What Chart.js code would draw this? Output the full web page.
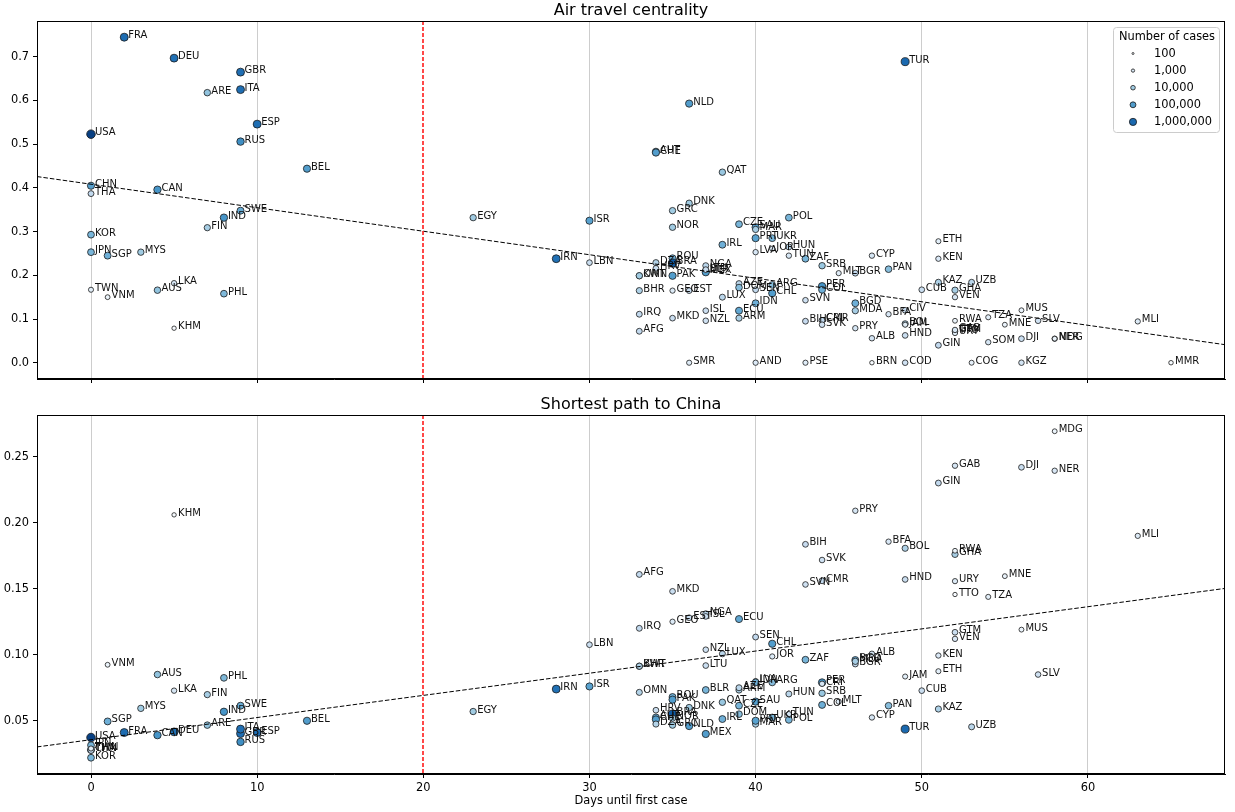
<!DOCTYPE html>
<html><head><meta charset="utf-8">
<script src="https://cdn.jsdelivr.net/npm/chart.js@4.4.0/dist/chart.umd.min.js"></script>
<style>
html,body{margin:0;padding:0;background:#fff;}
#wrap{position:relative;width:1235px;height:812px;}
canvas{position:absolute;left:0;}
</style></head><body>
<div id="wrap">
<canvas id="topChart" width="1235" height="392" style="top:0px"></canvas>
<canvas id="botChart" width="1235" height="420" style="top:392px"></canvas>
</div>
<script>
// ---------- DATA ----------
const codes = [
 'USA','CHN','THA','KOR','JPN','TWN','SGP','VNM','FRA','MYS',
 'CAN','AUS','DEU','LKA','KHM','ARE','FIN','IND','PHL','GBR',
 'ITA','RUS','SWE','ESP','BEL','EGY','IRN','ISR','LBN','OMN',
 'KWT','BHR','IRQ','AFG','AUT','CHE','DZA','HRV','ROU','BRA',
 'PAK','GEO','MKD','GRC','NOR','NLD','DNK','EST','SMR','NGA',
 'BLR','MEX','LTU','ISL','NZL','QAT','IRL','LUX','CZE','ARM',
 'AZE','DOM','ECU','SAU','MAR','PRT','LVA','SEN','IDN','AND',
 'UKR','JOR','ARG','CHL','HUN','TUN','POL','ZAF','SVN','BIH',
 'PSE','PER','COL','SRB','CRI','CMR','SVK','MLT','BGR','BGD',
 'MDA','PRY','CYP','ALB','BRN','PAN','BFA','TUR','CIV','BOL',
 'JAM','HND','COD','CUB','ETH','KEN','KAZ','GIN','GHA','VEN',
 'RWA','GTM','TTO','URY','GAB','UZB','COG','TZA','SOM','MNE',
 'MUS','DJI','KGZ','SLV','NER','MDG','MLI','MMR'];
const daysUntilFirstCase = [
 0,0,0,0,0,0,1,1,2,3,
 4,4,5,5,5,7,7,8,8,9,
 9,9,9,10,13,23,28,30,30,33,
 33,33,33,33,34,34,34,34,35,35,
 35,35,35,35,35,36,36,36,36,37,
 37,37,37,37,37,38,38,38,39,39,
 39,39,39,40,40,40,40,40,40,40,
 41,41,41,41,42,42,42,43,43,43,
 43,44,44,44,44,44,44,45,46,46,
 46,46,47,47,47,48,48,49,49,49,
 49,49,49,50,51,51,51,51,52,52,
 52,52,52,52,52,53,53,54,54,55,
 56,56,56,57,58,58,63,65];
const airCentrality = [
 0.523,0.405,0.387,0.293,0.253,0.167,0.245,0.150,0.745,0.253,
 0.396,0.166,0.697,0.182,0.079,0.618,0.309,0.332,0.158,0.665,
 0.625,0.506,0.348,0.546,0.444,0.332,0.238,0.325,0.229,0.199,
 0.199,0.165,0.111,0.072,0.483,0.481,0.229,0.216,0.239,0.228,
 0.199,0.165,0.102,0.348,0.310,0.593,0.365,0.165,0.000,0.222,
 0.210,0.207,0.213,0.119,0.096,0.436,0.270,0.150,0.317,0.102,
 0.181,0.172,0.119,0.310,0.305,0.285,0.253,0.167,0.136,0.000,
 0.285,0.261,0.178,0.159,0.265,0.245,0.332,0.238,0.143,0.095,
 0.000,0.175,0.167,0.222,0.097,0.097,0.087,0.205,0.205,0.136,
 0.119,0.079,0.245,0.056,0.000,0.214,0.111,0.689,0.120,0.089,
 0.087,0.0625,0.000,0.167,0.278,0.238,0.184,0.040,0.166,0.150,
 0.096,0.072,0.070,0.068,0.075,0.184,0.000,0.104,0.047,0.087,
 0.120,0.055,0.000,0.096,0.055,0.055,0.0945,0.000];
const pathToChina = [
 0.0373,0.0280,0.0275,0.0220,0.0315,0.0290,0.0495,0.0924,0.0411,0.0594,
 0.0391,0.0850,0.0416,0.0728,0.2059,0.0467,0.0698,0.0568,0.0825,0.0403,
 0.0437,0.0340,0.0614,0.0411,0.0500,0.0570,0.0740,0.0760,0.1076,0.0715,
 0.0913,0.0913,0.1200,0.1608,0.0525,0.0510,0.0475,0.0580,0.0680,0.0550,
 0.0660,0.1250,0.1480,0.0467,0.0520,0.0460,0.0600,0.1280,null,0.1310,
 0.0733,0.0400,0.0918,0.1290,0.1038,0.0640,0.0513,0.1007,0.0614,0.0733,
 0.0750,0.0550,0.1270,0.0645,0.0475,0.0500,0.0800,0.1134,0.0790,null,
 0.0525,0.0987,0.0790,0.1083,0.0703,0.0550,0.0507,0.0962,0.1532,0.1836,
 null,0.0790,0.0620,0.0708,0.0780,0.1560,0.1717,0.0645,0.0930,0.0960,
 0.0950,0.2090,0.0525,0.1007,null,0.0614,0.1856,0.0437,null,0.1806,
 0.0835,0.1570,null,0.0728,0.0875,0.0994,0.0589,0.2300,0.1760,0.1120,
 0.1787,0.1170,0.1456,0.1557,0.2431,0.0454,null,0.1438,null,0.1595,
 0.1190,0.2419,null,0.0850,0.2393,0.2692,0.1900,null];
const numberOfCases = [
 6000000,85000,3000,30000,30000,500,40000,300,900000,10000,
 150000,15000,700000,1000,120,15000,8000,150000,25000,800000,
 800000,200000,50000,800000,100000,10000,700000,80000,2000,5000,
 10000,6000,3000,3000,50000,100000,5000,2000,40000,2000000,
 100000,700,2000,10000,10000,100000,10000,2000,600,4000,
 30000,100000,2000,1800,1500,12000,40000,4000,30000,7000,
 4000,20000,60000,100000,8000,80000,1000,3000,40000,750,
 30000,700,20000,100000,4000,1000,30000,30000,1500,2500,
 600,150000,40000,12000,1000,3000,1500,600,3000,40000,
 8000,1000,1000,1200,140,20000,900,1000000,2000,6000,
 500,2000,1500,2000,500,800,6000,3000,8000,900,
 300,2000,120,700,1000,4000,400,500,1000,320,
 330,2000,1200,1500,900,300,700,150];

const xTicks = [0,10,20,30,40,50,60];
const topYTicks = [0.0,0.1,0.2,0.3,0.4,0.5,0.6,0.7];
const botYTicks = [0.05,0.10,0.15,0.20,0.25];
const trendX = [-3.25, 68.25];
const trendTopY = [0.426, 0.0413];
const trendBotY = [0.0302, 0.1502];
const firstCaseDay = 20;
const legendCases = [100,1000,10000,100000,1000000];
const legendLabels = ['100','1,000','10,000','100,000','1,000,000'];

// ---------- STYLE HELPERS ----------
const BLUES = [[247,251,255],[222,235,247],[198,219,239],[158,202,225],[107,174,214],[66,146,198],[33,113,181],[8,81,156],[8,48,107]];
function blues(t){
  t = Math.max(0, Math.min(1, t));
  const p = t*8, i = Math.min(7, Math.floor(p)), f = p - i;
  const a = BLUES[i], b = BLUES[i+1];
  return 'rgb(' + a.map((v,k)=>Math.round(v + (b[k]-v)*f)).join(',') + ')';
}
function colorFor(c){ return blues(0.37 + 0.205*(Math.log10(c) - 4)); }
function radiusFor(c){ return 1.8*Math.sqrt(Math.log10(c)) - 0.4; }
function legendRadiusFor(c){ return 1.0 + 0.65*(Math.log10(c) - 2); }
const FONT = '"DejaVu Sans", Verdana, sans-serif';

const topPts = [], botPts = [];
codes.forEach((code,i)=>{
  if (airCentrality[i] !== null) topPts.push({x: daysUntilFirstCase[i], y: airCentrality[i], code, c: numberOfCases[i]});
  if (pathToChina[i] !== null) botPts.push({x: daysUntilFirstCase[i], y: pathToChina[i], code, c: numberOfCases[i]});
});

function decorPlugin(title, withLegend){
  return {
    id: 'decor',
    afterDatasetsDraw(chart){
      const ctx = chart.ctx;
      const meta = chart.getDatasetMeta(1);
      const pts = chart.data.datasets[1].data;
      ctx.save();
      ctx.font = '10px ' + FONT; ctx.fillStyle = '#111'; ctx.textAlign = 'left'; ctx.textBaseline = 'alphabetic';
      meta.data.forEach((el,i)=>{ ctx.fillText(pts[i].code, el.x + 4, el.y + 1); });
      ctx.restore();
    },
    afterDraw(chart){
      const {ctx, chartArea:a} = chart;
      const xs = chart.scales.x;
      ctx.save();
      // vertical marker at first-case threshold
      const px = Math.round(xs.getPixelForValue(firstCaseDay));
      ctx.setLineDash([4,2]);
      ctx.lineWidth = 2;
      ctx.strokeStyle = 'rgba(255,40,40,0.85)';
      ctx.beginPath(); ctx.moveTo(px, a.top); ctx.lineTo(px, a.bottom); ctx.stroke();
      ctx.setLineDash([]);
      // frame
      ctx.strokeStyle = '#000'; ctx.lineWidth = 1;
      ctx.strokeRect(Math.round(a.left)+0.5, Math.round(a.top)+0.5, Math.round(a.right - a.left)-1, Math.round(a.bottom - a.top)-1);
      ctx.font = '16px ' + FONT; ctx.fillStyle = '#000'; ctx.textAlign = 'center'; ctx.textBaseline = 'alphabetic';
      ctx.fillText(title, (a.left + a.right)/2, a.top - 6);
      if (withLegend){
        const bx = a.right - 112, by = a.top + 6, bw = 106, bh = 105;
        ctx.fillStyle = 'rgba(255,255,255,0.85)'; ctx.strokeStyle = '#cccccc';
        ctx.beginPath();
        if (ctx.roundRect) ctx.roundRect(bx+0.5, by+0.5, bw, bh, 3); else ctx.rect(bx+0.5, by+0.5, bw, bh);
        ctx.fill(); ctx.stroke();
        ctx.fillStyle = '#000'; ctx.font = '11.4px ' + FONT; ctx.textBaseline = 'middle';
        ctx.textAlign = 'center';
        ctx.fillText('Number of cases', bx + bw/2 + 1, by + 10);
        ctx.textAlign = 'left';
        legendCases.forEach((c,i)=>{
          const cy = by + 26.5 + i*17.1, cx = bx + 20;
          ctx.beginPath(); ctx.arc(cx, cy, legendRadiusFor(c), 0, Math.PI*2);
          ctx.fillStyle = colorFor(c); ctx.fill();
          ctx.strokeStyle = '#1a1a1a'; ctx.lineWidth = 0.8; ctx.stroke();
          ctx.fillStyle = '#000';
          ctx.fillText(legendLabels[i], bx + 41, cy + 0.5);
        });
      }
      ctx.restore();
    }
  };
}

function makeChart(id, pts, trendY, yMin, yMax, yTicks, yDigits, padTop, xHeight, showX, title, withLegend){
  return new Chart(document.getElementById(id), {
    type: 'scatter',
    data: { datasets: [
      { type: 'line', data: trendX.map((x,i)=>({x, y: trendY[i]})), borderColor: '#000', borderWidth: 1,
        borderDash: [4.5,2], pointRadius: 0, fill: false, tension: 0 },
      { data: pts, showLine: false,
        pointRadius: ctx => ctx.raw ? radiusFor(ctx.raw.c) : 3,
        pointHoverRadius: ctx => ctx.raw ? radiusFor(ctx.raw.c) : 3,
        pointBackgroundColor: ctx => ctx.raw ? colorFor(ctx.raw.c) : '#fff',
        pointBorderColor: '#1a1a1a', pointBorderWidth: 0.8 }
    ]},
    options: {
      responsive: false, animation: false, devicePixelRatio: 1, events: [],
      layout: { padding: { left: 0, right: 10, top: padTop, bottom: 0 } },
      plugins: { legend: { display: false }, tooltip: { enabled: false }, title: { display: false } },
      scales: {
        x: { type: 'linear', min: -3.25, max: 68.25,
          afterBuildTicks: s => { s.ticks = xTicks.map(v => ({value: v})); },
          afterFit: s => { s.height = xHeight; },
          grid: { color: c => (c.tick && c.tick.value === firstCaseDay) ? 'rgba(0,0,0,0)' : '#cdcdcd',
                  lineWidth: 1, tickColor: '#000', tickLength: 4, drawOnChartArea: true },
          border: { color: '#000', width: 1 },
          ticks: { color: '#000', font: { family: FONT, size: 11.4 }, padding: 3, autoSkip: false, maxRotation: 0,
            callback: v => showX ? String(v) : '' },
          title: { display: showX, text: 'Days until first case', color: '#000', font: { family: FONT, size: 11.4 }, padding: { top: 0, bottom: 4 } }
        },
        y: { type: 'linear', min: yMin, max: yMax,
          afterBuildTicks: s => { s.ticks = yTicks.map(v => ({value: v})); },
          afterFit: s => { s.width = 37; },
          grid: { drawOnChartArea: false, tickColor: '#000', tickLength: 4 },
          border: { color: '#000', width: 1 },
          ticks: { color: '#000', font: { family: FONT, size: 11.4 }, padding: 4, autoSkip: false,
            callback: v => Number(v).toFixed(yDigits) }
        }
      }
    },
    plugins: [decorPlugin(title, withLegend)]
  });
}

makeChart('topChart', topPts, trendTopY, -0.03725, 0.782, topYTicks, 1, 21, 13, false, 'Air travel centrality', true);
makeChart('botChart', botPts, trendBotY, 0.0097, 0.2815, botYTicks, 2, 23, 38, true, 'Shortest path to China', false);
</script>
</body></html>
